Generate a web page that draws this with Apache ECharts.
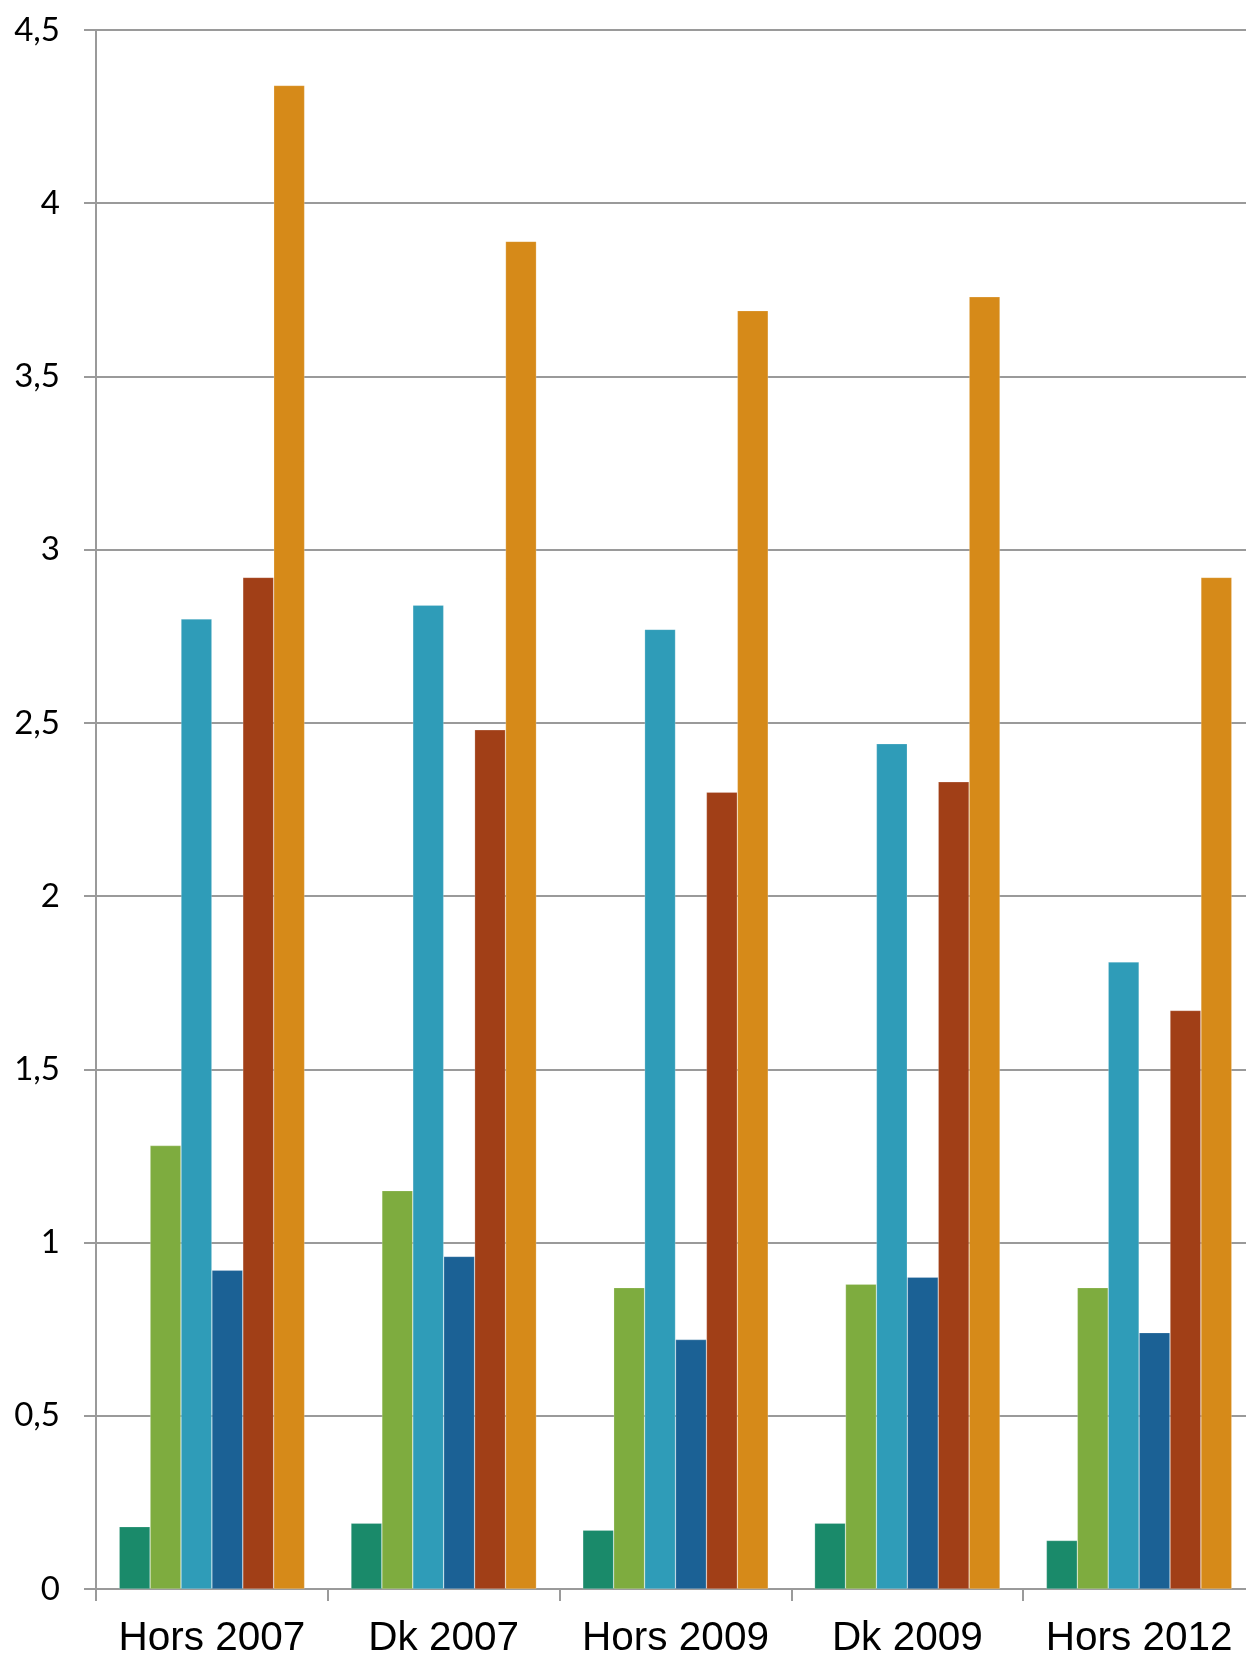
<!DOCTYPE html>
<html>
<head>
<meta charset="utf-8">
<script src="https://cdn.jsdelivr.net/npm/echarts@6/dist/echarts.min.js"></script>
<style>
html,body{margin:0;padding:0;background:#fff;overflow:hidden;}
#c{width:1246px;height:1656px;}
</style>
</head>
<body>
<div id="c"></div>
<script>
const categories = ['Hors 2007', 'Dk 2007', 'Hors 2009', 'Dk 2009', 'Hors 2012'];
const series1 = [0.18, 0.19, 0.17, 0.19, 0.14];
const series2 = [1.28, 1.15, 0.87, 0.88, 0.87];
const series3 = [2.80, 2.84, 2.77, 2.44, 1.81];
const series4 = [0.92, 0.96, 0.72, 0.90, 0.74];
const series5 = [2.92, 2.48, 2.30, 2.33, 1.67];
const series6 = [4.34, 3.89, 3.69, 3.73, 2.92];
const seriesNames = ['Serie 1', 'Serie 2', 'Serie 3', 'Serie 4', 'Serie 5', 'Serie 6'];
const colors = ['#1a8a6a', '#7eac3f', '#2f9cb8', '#1b6195', '#a13f17', '#d68a19'];
const yTicks = [0, 0.5, 1, 1.5, 2, 2.5, 3, 3.5, 4, 4.5];

const allSeries = [series1, series2, series3, series4, series5, series6];
const chart = echarts.init(document.getElementById('c'), null, {renderer: 'canvas'});
chart.setOption({
  animation: false,
  backgroundColor: '#ffffff',
  grid: {left: 96, top: 30, width: 1159, bottom: 67, containLabel: false, outerBoundsMode: 'none'},
  xAxis: {
    type: 'category',
    data: categories,
    axisLine: {lineStyle: {color: '#9a9a9a', width: 2}},
    axisTick: {show: true, interval: 0, length: 12, alignWithLabel: false, lineStyle: {color: '#9a9a9a', width: 2}},
    axisLabel: {interval: 0, color: '#000', fontSize: 40.5, fontFamily: 'Liberation Sans, Arial, sans-serif', margin: 29},
    splitLine: {show: false}
  },
  yAxis: {
    type: 'value',
    min: yTicks[0],
    max: yTicks[yTicks.length - 1],
    interval: 0.5,
    axisLine: {show: true, lineStyle: {color: '#9a9a9a', width: 2}},
    axisTick: {show: true, length: 12, lineStyle: {color: '#9a9a9a', width: 2}},
    splitLine: {show: true, lineStyle: {color: '#9a9a9a', width: 2}},
    axisLabel: {
      color: '#000', fontSize: 33, fontFamily: 'Lato, "Open Sans", sans-serif', margin: 36,
      formatter: v => String(v).replace('.', ',')
    }
  },
  series: allSeries.map((d, i) => ({
    name: seriesNames[i],
    type: 'bar',
    data: d,
    barGap: '0%',
    barCategoryGap: '20%',
    itemStyle: {color: colors[i], borderColor: 'rgba(255,255,255,0.35)', borderWidth: 0.6}
  }))
});
</script>
</body>
</html>
